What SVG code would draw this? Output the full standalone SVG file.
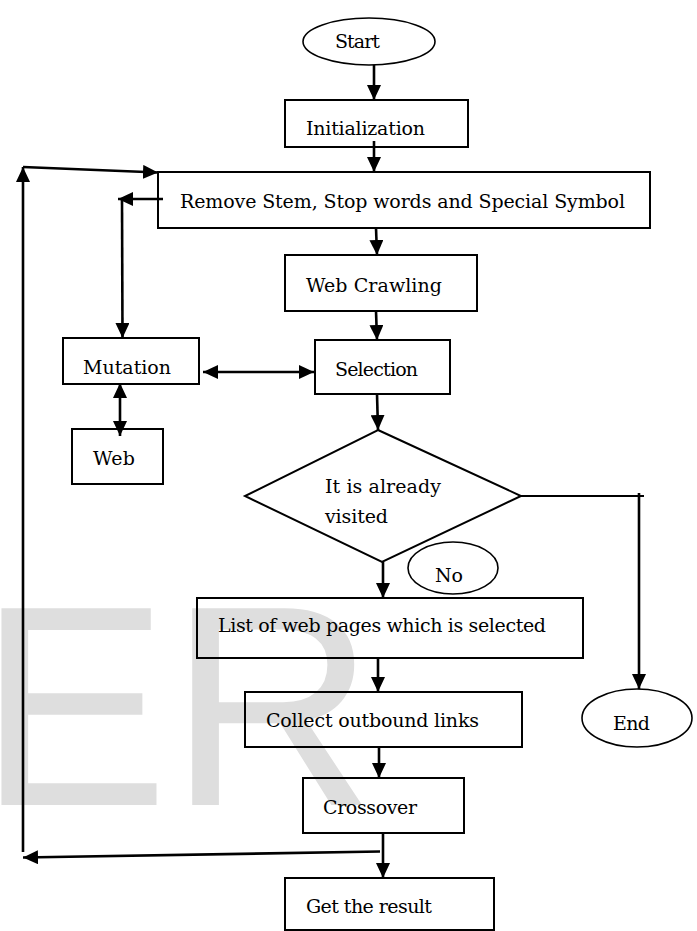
<svg xmlns="http://www.w3.org/2000/svg" width="697" height="931" viewBox="0 0 697 931">
  <style>
    .box { fill: none; stroke: #000; stroke-width: 2; }
    .oval { fill: none; stroke: #000; stroke-width: 1.6; }
    .lbl { font-family: "DejaVu Serif", "Liberation Serif", serif; font-size: 19px; fill: #000; }
    .con { fill: none; stroke: #000; stroke-width: 2.6; }
    .thin { fill: none; stroke: #000; stroke-width: 2; }
    .wm { font-family: "Liberation Sans", Arial, sans-serif; font-size: 286px; fill: #dedede; }
  </style>
  <defs>
    <marker id="ah" markerUnits="userSpaceOnUse" markerWidth="15" markerHeight="14" refX="15" refY="7" orient="auto-start-reverse">
      <path d="M0,0 L15,7 L0,14 Z" fill="#000"/>
    </marker>
  </defs>
  <rect width="697" height="931" fill="#fff"/>
  <text class="wm" x="-22" y="805">ER</text>

  <g id="start">
    <ellipse class="oval" cx="369" cy="41.5" rx="66" ry="23.5"/>
    <text class="lbl" x="335" y="48" textLength="45">Start</text>
  </g>
  <g id="init">
    <rect class="box" x="285" y="100" width="183" height="47"/>
    <text class="lbl" x="306" y="135" textLength="119">Initialization</text>
  </g>
  <g id="remove">
    <rect class="box" x="158" y="172" width="492" height="56"/>
    <text class="lbl" x="180" y="208" textLength="445">Remove Stem, Stop words and Special Symbol</text>
  </g>
  <g id="webcrawling">
    <rect class="box" x="285" y="255" width="192" height="56"/>
    <text class="lbl" x="306" y="292" textLength="136">Web Crawling</text>
  </g>
  <g id="mutation">
    <rect class="box" x="63" y="338" width="136" height="46"/>
    <text class="lbl" x="83" y="374" textLength="88">Mutation</text>
  </g>
  <g id="selection">
    <rect class="box" x="315" y="340" width="135" height="54"/>
    <text class="lbl" x="335" y="376" textLength="83">Selection</text>
  </g>
  <g id="web">
    <rect class="box" x="72" y="429" width="91" height="55"/>
    <text class="lbl" x="93" y="465" textLength="42">Web</text>
  </g>
  <g id="decision">
    <polygon class="thin" points="378,430 521,496 382,562 245,496"/>
    <text class="lbl" x="325" y="493" textLength="116">It is already</text>
    <text class="lbl" x="325" y="523" textLength="63">visited</text>
  </g>
  <g id="no">
    <ellipse class="oval" cx="453" cy="568" rx="45" ry="26"/>
    <text class="lbl" x="435" y="582" textLength="28">No</text>
  </g>
  <g id="list">
    <rect class="box" x="197" y="598" width="386" height="60"/>
    <text class="lbl" x="218" y="632" textLength="328">List of web pages which is selected</text>
  </g>
  <g id="collect">
    <rect class="box" x="245" y="692" width="277" height="55"/>
    <text class="lbl" x="266" y="727" textLength="213">Collect outbound links</text>
  </g>
  <g id="end">
    <ellipse class="oval" cx="637" cy="718" rx="55" ry="29"/>
    <text class="lbl" x="613" y="730" textLength="37">End</text>
  </g>
  <g id="crossover">
    <rect class="box" x="303" y="778" width="161" height="55"/>
    <text class="lbl" x="323" y="814" textLength="94">Crossover</text>
  </g>
  <g id="result">
    <rect class="box" x="285" y="878" width="209" height="52"/>
    <text class="lbl" x="306" y="913" textLength="126">Get the result</text>
  </g>

  <g id="connectors">
    <line class="con" x1="374" y1="65" x2="374" y2="100" marker-end="url(#ah)"/>
    <line class="con" x1="374" y1="141" x2="374" y2="172" marker-end="url(#ah)"/>
    <line class="con" x1="376" y1="228" x2="377" y2="255" marker-end="url(#ah)"/>
    <line class="con" x1="376" y1="311" x2="377" y2="340" marker-end="url(#ah)"/>
    <line class="con" x1="377" y1="394" x2="378" y2="430" marker-end="url(#ah)"/>
    <line class="thin" x1="521" y1="496" x2="644" y2="496"/>
    <line class="con" x1="639" y1="493" x2="639" y2="689" marker-end="url(#ah)"/>
    <line class="con" x1="383" y1="562" x2="383" y2="598" marker-end="url(#ah)"/>
    <line class="con" x1="378" y1="658" x2="378" y2="692" marker-end="url(#ah)"/>
    <line class="con" x1="379" y1="747" x2="379" y2="778" marker-end="url(#ah)"/>
    <line class="con" x1="383" y1="833" x2="383" y2="878" marker-end="url(#ah)"/>
    <line class="con" x1="380" y1="851.5" x2="23" y2="857.5" marker-end="url(#ah)"/>
    <line class="con" x1="23" y1="852" x2="23" y2="167" marker-end="url(#ah)"/>
    <line class="con" x1="23" y1="167" x2="158" y2="172.5" marker-end="url(#ah)"/>
    <line class="con" x1="163" y1="199" x2="118" y2="199" marker-end="url(#ah)"/>
    <line class="con" x1="122" y1="199" x2="122.5" y2="338" marker-end="url(#ah)"/>
    <line class="con" x1="203" y1="372" x2="314" y2="372" marker-start="url(#ah)" marker-end="url(#ah)"/>
    <line class="con" x1="120" y1="383" x2="120" y2="436" marker-start="url(#ah)" marker-end="url(#ah)"/>
  </g>
</svg>
